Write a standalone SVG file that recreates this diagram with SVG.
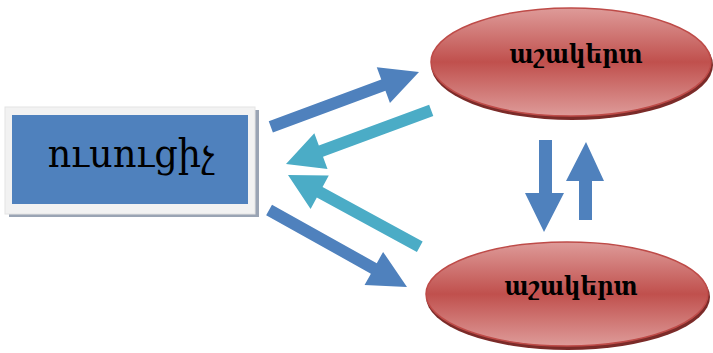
<svg xmlns="http://www.w3.org/2000/svg" width="713" height="353" viewBox="0 0 713 353">
<defs>
<linearGradient id="red" x1="0" y1="0" x2="0" y2="1">
<stop offset="0" stop-color="#DE9B99"/>
<stop offset="0.5" stop-color="#C0504D"/>
<stop offset="1" stop-color="#DE9B99"/>
</linearGradient>
<path id="arr" d="M-158,-6 L-38,-6 L-38,-19 L0,0 L-38,19 L-38,6 L-158,6 Z"/>
</defs>
<style>
.blue{fill:#4F81BD}
.teal{fill:#4BACC6}
.ell{fill:url(#red);stroke:#BE4B48;stroke-width:1.5}
.shd{fill:#7B2B29}
.lbl{font-family:"DejaVu Serif","Noto Serif","Noto Sans",serif;fill:#000;text-anchor:middle}
</style>
<rect width="713" height="353" fill="#fff"/>
<g id="connectors">
<use href="#arr" class="blue" transform="translate(419,72) rotate(-20.3)"/>
<use href="#arr" class="teal" transform="translate(286,164) rotate(159.7) scale(0.98,1)"/>
<use href="#arr" class="teal" transform="translate(288,175) rotate(208.6) scale(0.95,1)"/>
<use href="#arr" class="blue" transform="translate(407,287) rotate(29.2)"/>
<polygon class="blue" points="539,140 552,140 552,193 564,193 544,232 525,193 539,193"/>
<polygon class="blue" points="579,220 592,220 592,181 604,181 586,142 566,181 579,181"/>
</g>
<g id="teacher">
<rect x="9" y="110" width="250" height="107" fill="#9AA4B4"/>
<rect x="5" y="107" width="250" height="107" fill="#F2F2F2" stroke="#E4E4E4" stroke-width="1"/>
<rect x="12" y="115" width="236" height="89" fill="#4F81BD"/>
<text class="lbl" x="131" y="167" font-size="40" textLength="167" lengthAdjust="spacingAndGlyphs">ուսուցիչ</text>
</g>
<g id="student1">
<ellipse class="shd" cx="572" cy="65" rx="141" ry="55"/>
<ellipse class="ell" cx="571" cy="62" rx="140" ry="54"/>
<text class="lbl" x="576" y="63" font-size="26" font-weight="bold" textLength="133" lengthAdjust="spacingAndGlyphs">աշակերտ</text>
</g>
<g id="student2">
<ellipse class="shd" cx="568" cy="297" rx="142" ry="53"/>
<ellipse class="ell" cx="567" cy="294" rx="141" ry="52"/>
<text class="lbl" x="571" y="295" font-size="26" font-weight="bold" textLength="133" lengthAdjust="spacingAndGlyphs">աշակերտ</text>
</g>
</svg>
